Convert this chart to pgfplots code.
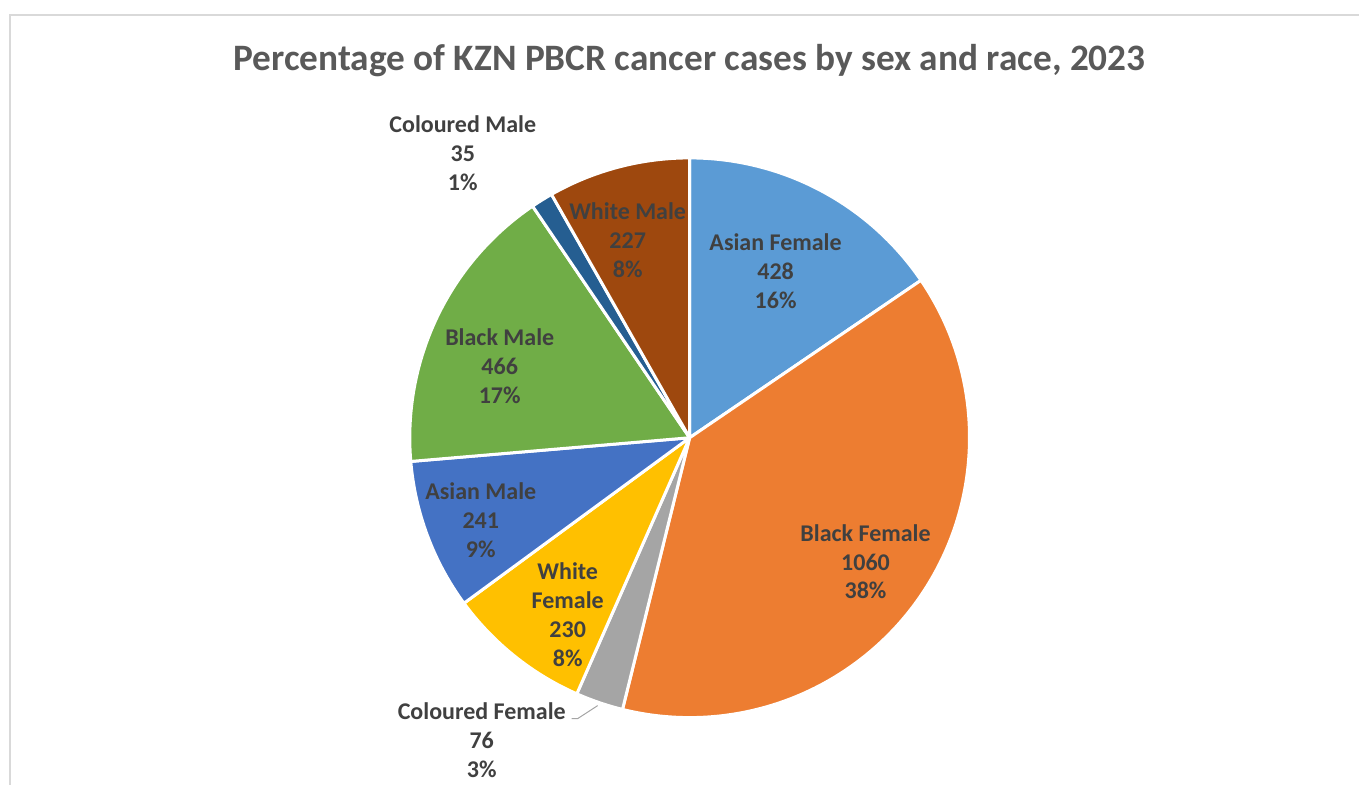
\documentclass[border=0pt]{standalone}
\usepackage{pgfplots}
\usepackage{pgfplotstable}
\pgfplotsset{compat=1.18}
\usepackage{fontspec}
\setmainfont{Carlito}
\definecolor{cAF}{HTML}{5B9BD5}
\definecolor{cBF}{HTML}{ED7D31}
\definecolor{cCF}{HTML}{A5A5A5}
\definecolor{cWF}{HTML}{FFC000}
\definecolor{cAM}{HTML}{4472C4}
\definecolor{cBM}{HTML}{70AD47}
\definecolor{cCM}{HTML}{255E91}
\definecolor{cWM}{HTML}{9E480E}
\definecolor{txt}{HTML}{404040}
\definecolor{ttl}{HTML}{595959}
\definecolor{frame}{HTML}{D9D9D9}

\pgfplotstableread{
value col
428 cAF
1060 cBF
76 cCF
230 cWF
241 cAM
466 cBM
35 cCM
227 cWM
}\piedata

\begin{document}
\begin{tikzpicture}
% totals and slice angles from the table
\gdef\total{0}
\pgfplotstableforeachcolumnelement{value}\of\piedata\as\v{%
  \pgfmathparse{\total+\v}\xdef\total{\pgfmathresult}}
\gdef\cum{0}
\pgfplotstableforeachcolumnelement{value}\of\piedata\as\v{%
  \pgfmathparse{90-360*(\cum/\total)}\expandafter\xdef\csname sA\pgfplotstablerow\endcsname{\pgfmathresult}%
  \pgfmathparse{\cum+\v}\xdef\cum{\pgfmathresult}%
  \pgfmathparse{90-360*(\cum/\total)}\expandafter\xdef\csname sB\pgfplotstablerow\endcsname{\pgfmathresult}%
  \pgfplotstablegetelem{\pgfplotstablerow}{col}\of\piedata
  \expandafter\xdef\csname sC\pgfplotstablerow\endcsname{\pgfplotsretval}%
}
\begin{axis}[
  width=1360bp, height=785bp, scale only axis,
  xmin=0, xmax=1360, ymin=0, ymax=785,
  hide axis, clip=false,
]
\path (axis cs:0,0) rectangle (axis cs:1360,785);
\draw[frame, line width=1.5bp] (axis cs:10,0) -- (axis cs:10,770) -- (axis cs:1360,770);
\pgfplotsinvokeforeach{0,...,7}{%
  \edef\doslice{\noexpand\fill[\csname sC#1\endcsname, draw=white, line width=3bp, line join=round]
    (axis cs:690,347) -- ([shift={(\csname sA#1\endcsname:280bp)}]axis cs:690,347)
    arc[start angle=\csname sA#1\endcsname, end angle=\csname sB#1\endcsname, radius=280bp] -- cycle;}%
  \doslice
}
\draw[cCF, line width=1bp] (axis cs:572,66) -- (axis cs:578,66) -- (axis cs:598,79);
\node[font=\fontsize{37.3bp}{44bp}\selectfont\bfseries, text=ttl, anchor=base] at (axis cs:690,714)
  {Percentage of KZN PBCR cancer cases by sex and race, 2023};
\tikzset{lab/.style={align=center, font=\fontsize{24bp}{29bp}\selectfont\bfseries, text=txt, anchor=center, inner sep=0pt}}
\node[lab] at (axis cs:776,514) {Asian Female\\428\\16\%};
\node[lab] at (axis cs:866,223) {Black Female\\1060\\38\%};
\node[lab] at (axis cs:482,44) {Coloured Female\\76\\3\%};
\node[lab] at (axis cs:568,170) {White\\Female\\230\\8\%};
\node[lab] at (axis cs:481,265) {Asian Male\\241\\9\%};
\node[lab] at (axis cs:500,419) {Black Male\\466\\17\%};
\node[lab] at (axis cs:463,632) {Coloured Male\\35\\1\%};
\node[lab] at (axis cs:628,545) {White Male\\227\\8\%};
\end{axis}
\end{tikzpicture}
\end{document}
